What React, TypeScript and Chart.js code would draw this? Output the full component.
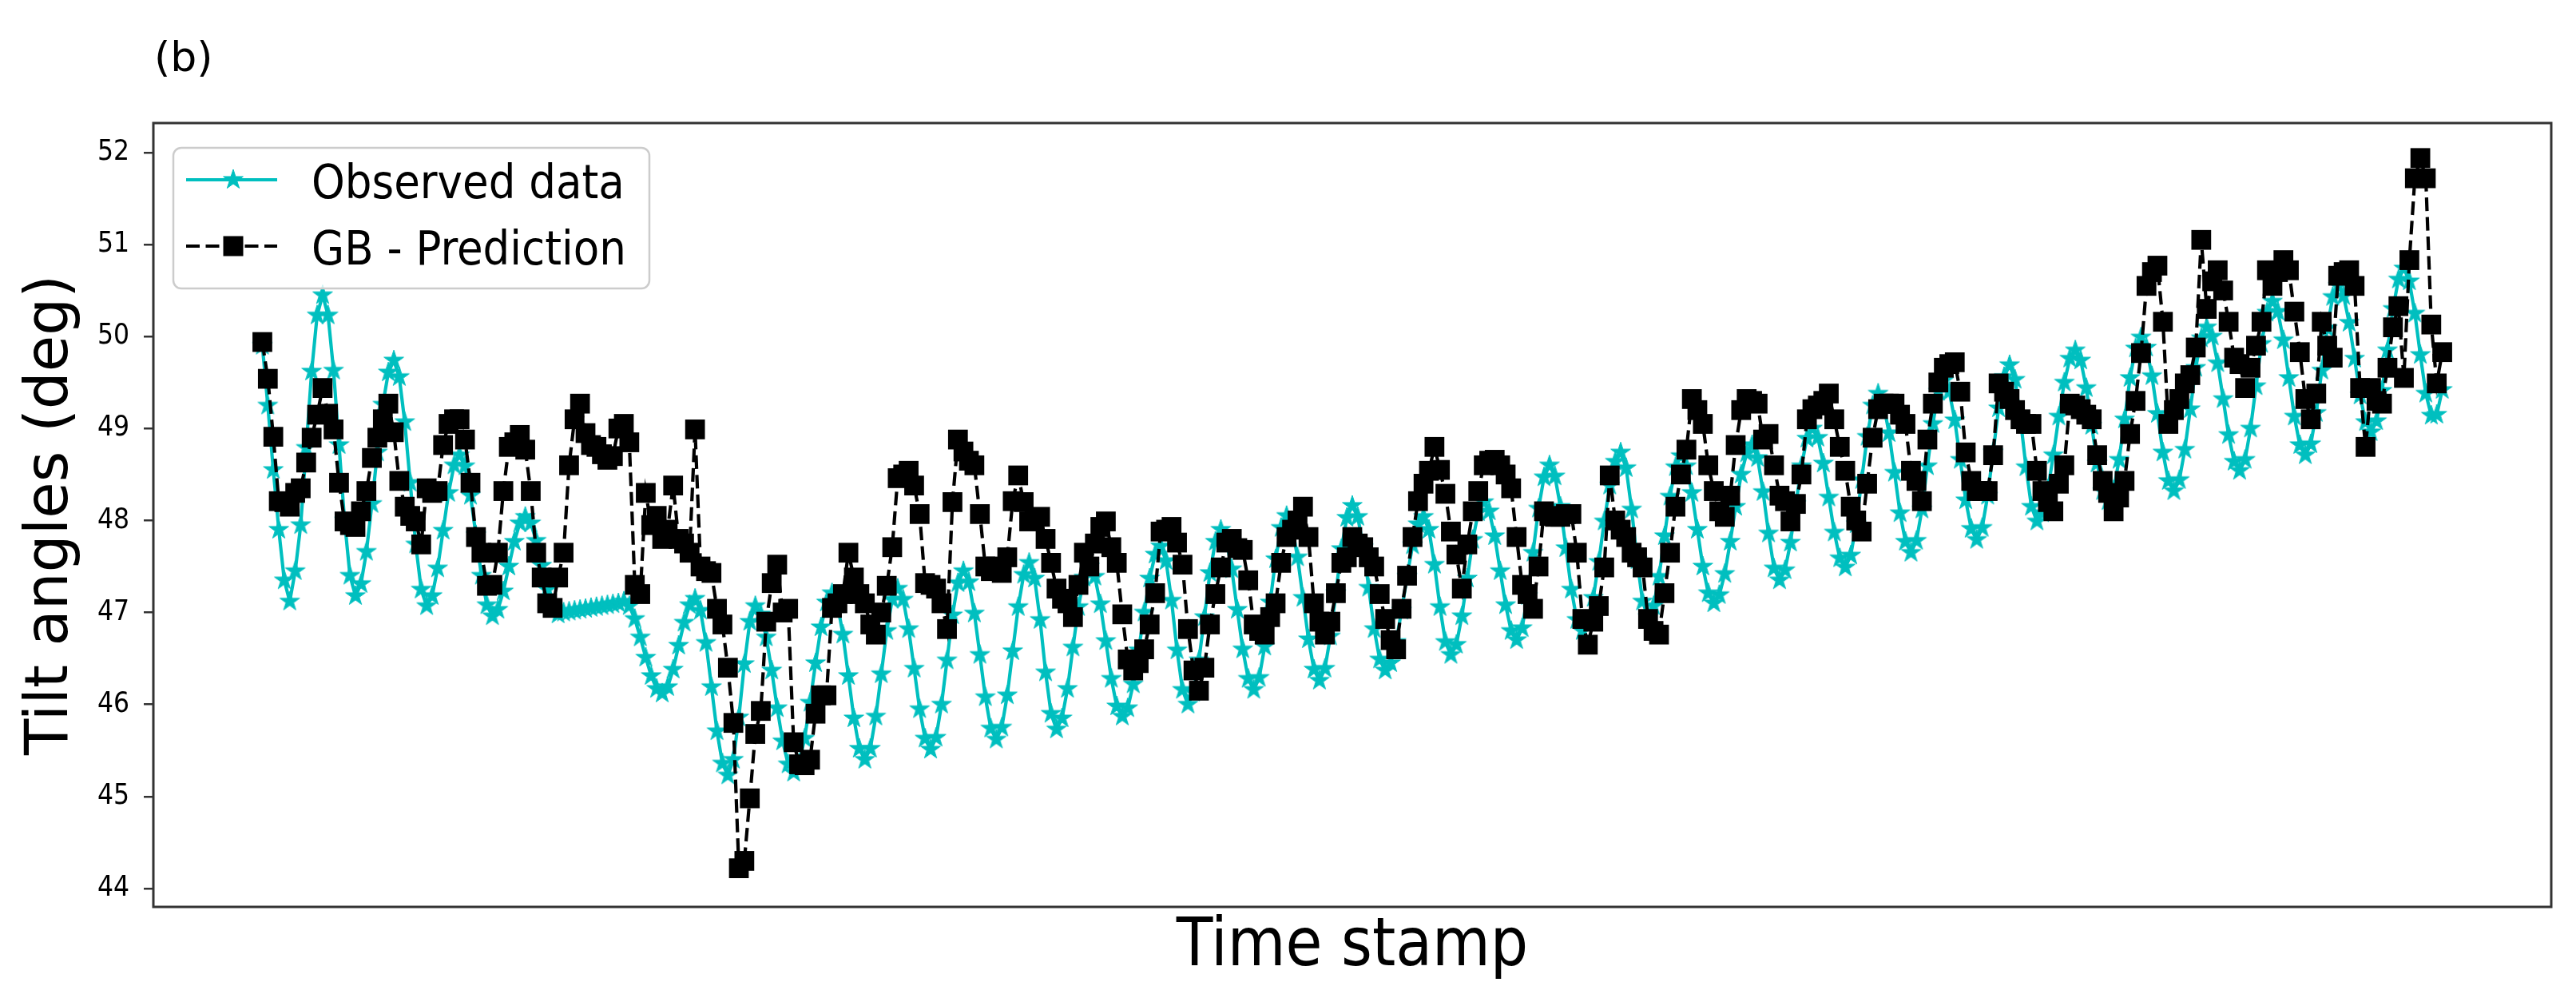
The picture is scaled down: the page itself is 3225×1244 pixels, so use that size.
import React, { useEffect, useRef } from "react";
import { Chart, registerables } from "chart.js";

Chart.register(...registerables);

// ---------------- data ----------------
const panelLabel = "(b)";
const xAxisTitle = "Time stamp";
const yAxisTitle = "Tilt angles (deg)";
const seriesNames = ["Observed data", "GB - Prediction"];
const yTickValues = [44, 45, 46, 47, 48, 49, 50, 51, 52];
const yRange = [43.8, 52.32];

// observed tilt angle, one value per time stamp
const observed = [
  49.9, 49.25, 48.55, 47.9, 47.35, 47.12, 47.45, 47.95, 48.79, 49.62,
  50.23, 50.45, 50.23, 49.63, 48.82, 48.0, 47.4, 47.18, 47.31, 47.66,
  48.18, 48.74, 49.26, 49.61, 49.74, 49.56, 49.07, 48.41, 47.74, 47.25,
  47.07, 47.18, 47.48, 47.89, 48.3, 48.6, 48.71, 48.59, 48.27, 47.84,
  47.4, 47.08, 46.96, 47.03, 47.23, 47.5, 47.77, 47.97, 48.04, 47.97,
  47.78, 47.51, 47.25, 47.05, 46.98, 47.0, 47.01, 47.02, 47.03, 47.04,
  47.05, 47.06, 47.07, 47.08, 47.09, 47.1, 47.12, 47.07, 46.93, 46.73,
  46.51, 46.31, 46.17, 46.12, 46.19, 46.38, 46.64, 46.89, 47.08, 47.15,
  47.02, 46.67, 46.19, 45.71, 45.36, 45.23, 45.4, 45.86, 46.44, 46.9,
  47.07, 46.98, 46.73, 46.37, 45.96, 45.6, 45.35, 45.26, 45.36, 45.63,
  46.02, 46.45, 46.84, 47.11, 47.21, 47.09, 46.76, 46.31, 45.85, 45.52,
  45.4, 45.52, 45.87, 46.33, 46.8, 47.14, 47.26, 47.14, 46.82, 46.39,
  45.95, 45.63, 45.51, 45.64, 46.0, 46.48, 46.97, 47.32, 47.45, 47.33,
  46.99, 46.54, 46.08, 45.74, 45.62, 45.75, 46.1, 46.58, 47.06, 47.41,
  47.54, 47.37, 46.92, 46.35, 45.9, 45.73, 45.85, 46.17, 46.62, 47.06,
  47.38, 47.5, 47.39, 47.09, 46.69, 46.28, 45.98, 45.87, 45.96, 46.22,
  46.59, 47.0, 47.37, 47.63, 47.72, 47.56, 47.13, 46.59, 46.16, 46.0,
  46.13, 46.48, 46.95, 47.43, 47.77, 47.9, 47.78, 47.47, 47.03, 46.6,
  46.28, 46.16, 46.29, 46.63, 47.11, 47.58, 47.92, 48.05, 47.93, 47.6,
  47.16, 46.71, 46.38, 46.26, 46.39, 46.74, 47.21, 47.69, 48.03, 48.16,
  48.04, 47.71, 47.27, 46.82, 46.49, 46.37, 46.45, 46.68, 47.02, 47.39,
  47.73, 47.96, 48.04, 47.9, 47.52, 47.06, 46.68, 46.54, 46.65, 46.96,
  47.37, 47.79, 48.09, 48.2, 48.1, 47.83, 47.45, 47.08, 46.8, 46.7,
  46.83, 47.18, 47.65, 48.13, 48.47, 48.6, 48.48, 48.15, 47.7, 47.25,
  46.92, 46.8, 46.9, 47.16, 47.55, 47.99, 48.38, 48.64, 48.74, 48.57,
  48.12, 47.57, 47.12, 46.95, 47.07, 47.39, 47.83, 48.26, 48.58, 48.7,
  48.59, 48.3, 47.9, 47.5, 47.21, 47.1, 47.19, 47.42, 47.77, 48.15,
  48.5, 48.73, 48.82, 48.68, 48.31, 47.86, 47.48, 47.35, 47.46, 47.76,
  48.18, 48.59, 48.89, 49.0, 48.9, 48.62, 48.25, 47.87, 47.59, 47.49,
  47.62, 47.96, 48.44, 48.91, 49.25, 49.38, 49.26, 48.95, 48.52, 48.08,
  47.77, 47.65, 47.78, 48.12, 48.59, 49.05, 49.4, 49.52, 49.4, 49.09,
  48.66, 48.22, 47.91, 47.79, 47.92, 48.27, 48.74, 49.22, 49.56, 49.69,
  49.53, 49.1, 48.58, 48.15, 47.99, 48.08, 48.34, 48.71, 49.13, 49.5,
  49.76, 49.85, 49.74, 49.44, 49.03, 48.62, 48.32, 48.21, 48.33, 48.66,
  49.1, 49.55, 49.87, 49.99, 49.88, 49.57, 49.16, 48.74, 48.43, 48.32,
  48.44, 48.77, 49.21, 49.66, 49.98, 50.1, 50.0, 49.71, 49.32, 48.93,
  48.64, 48.54, 48.66, 49.0, 49.46, 49.92, 50.26, 50.38, 50.27, 49.96,
  49.55, 49.13, 48.82, 48.71, 48.83, 49.17, 49.63, 50.09, 50.43, 50.55,
  50.44, 50.15, 49.76, 49.36, 49.07, 48.96, 49.08, 49.41, 49.85, 50.3,
  50.62, 50.74, 50.6, 50.25, 49.8, 49.38, 49.14, 49.15, 49.42,
];

// gradient boosting prediction, one value per time stamp
const gbPrediction = [
  49.94, 49.54, 48.91, 48.21, 48.2, 48.15, 48.3, 48.35, 48.63, 48.9,
  49.15, 49.44, 49.16, 48.99, 48.41, 47.99, 47.95, 47.93, 48.1, 48.32,
  48.68, 48.9, 49.1, 49.27, 48.96, 48.43, 48.15, 48.05, 47.99, 47.74,
  48.35, 48.3, 48.32, 48.82, 49.05, 49.1, 49.1, 48.88, 48.41, 47.82,
  47.65, 47.29, 47.3, 47.65, 48.32, 48.8, 48.85, 48.93, 48.77, 48.32,
  47.65, 47.38, 47.1, 47.05, 47.38, 47.65, 48.6, 49.1, 49.27, 48.95,
  48.82, 48.8, 48.72, 48.66, 48.7, 49.0, 49.05, 48.85, 47.3, 47.2,
  48.3, 47.95, 48.05, 47.8, 47.9, 48.38, 47.8, 47.75, 47.65, 48.99,
  47.5, 47.45, 47.43, 47.04, 46.87, 46.4, 45.8, 44.22, 44.3, 44.98,
  45.68, 45.93, 46.9, 47.32, 47.52, 47.0, 47.04, 45.59, 45.35, 45.34,
  45.4, 45.9, 46.1, 46.1, 47.05, 47.1, 47.2, 47.65, 47.38, 47.2,
  47.1, 46.87, 46.76, 47.0, 47.29, 47.71, 48.46, 48.5, 48.54, 48.38,
  48.07, 47.32, 47.3, 47.26, 47.1, 46.82, 48.2, 48.88, 48.75, 48.65,
  48.6, 48.07, 47.5, 47.45, 47.5, 47.43, 47.6, 48.21, 48.49, 48.2,
  47.99, 48.0, 48.04, 47.8, 47.54, 47.26, 47.15, 47.1, 46.95, 47.3,
  47.65, 47.5, 47.75, 47.93, 47.99, 47.71, 47.54, 46.98, 46.49, 46.37,
  46.45, 46.6, 46.87, 47.21, 47.88, 47.9, 47.93, 47.76, 47.52, 46.82,
  46.37, 46.15, 46.4, 46.87, 47.2, 47.49, 47.76, 47.8, 47.7, 47.68,
  47.35, 46.87, 46.8, 46.76, 46.95, 47.1, 47.54, 47.82, 47.9, 48.0,
  48.15, 47.82, 47.1, 46.9, 46.76, 46.9, 47.21, 47.54, 47.6, 47.82,
  47.75, 47.71, 47.6, 47.5, 47.2, 46.93, 46.7, 46.6, 47.04, 47.4,
  47.82, 48.21, 48.4, 48.54, 48.8, 48.55, 48.29, 47.88, 47.63, 47.26,
  47.74, 48.1, 48.32, 48.6, 48.65, 48.66, 48.6, 48.5, 48.35, 47.82,
  47.3, 47.2, 47.04, 47.5, 48.1, 48.05, 48.04, 48.04, 48.07, 48.07,
  47.65, 46.93, 46.65, 46.9, 47.07, 47.49, 48.49, 48.0, 47.9, 47.82,
  47.65, 47.6, 47.49, 46.93, 46.8, 46.76, 47.21, 47.65, 48.15, 48.5,
  48.77, 49.32, 49.2, 49.05, 48.6, 48.32, 48.1, 48.04, 48.27, 48.82,
  49.2, 49.32, 49.3, 49.27, 48.88, 48.94, 48.6, 48.27, 48.21, 47.99,
  48.18, 48.5, 49.1, 49.21, 49.25, 49.3, 49.38, 49.1, 48.8, 48.54,
  48.15, 48.0, 47.88, 48.4, 48.9, 49.21, 49.27, 49.27, 49.27, 49.15,
  49.05, 48.54, 48.43, 48.21, 48.88, 49.27, 49.5, 49.66, 49.7, 49.72,
  49.4, 48.74, 48.43, 48.32, 48.32, 48.32, 48.71, 49.49, 49.4, 49.32,
  49.2, 49.1, 49.05, 49.05, 48.54, 48.32, 48.2, 48.1, 48.4, 48.6,
  49.27, 49.25, 49.21, 49.15, 49.1, 48.71, 48.43, 48.3, 48.1, 48.25,
  48.43, 48.94, 49.3, 49.82, 50.55, 50.7, 50.77, 50.16, 49.05, 49.2,
  49.32, 49.49, 49.58, 49.88, 51.05, 50.3, 50.6, 50.72, 50.5, 50.16,
  49.77, 49.7, 49.44, 49.66, 49.9, 50.16, 50.72, 50.55, 50.7, 50.83,
  50.72, 50.27, 49.83, 49.32, 49.1, 49.38, 50.16, 49.9, 49.77, 50.66,
  50.7, 50.72, 50.55, 49.44, 48.8, 49.44, 49.3, 49.27, 49.66, 50.1,
  50.33, 49.55, 50.83, 51.72, 51.94, 51.72, 50.13, 49.49, 49.83,
];

// ---------------- styling ----------------
const W = 3225;
const H = 1244;
const CYAN = "#00BFBF";
const FRAME = "#333333";
const SANS = "'DejaVu Sans', sans-serif";
const COND = "'DejaVu Sans Condensed', 'DejaVu Sans', sans-serif";
const DASH = [17, 7.5];

function makeStar(size: number, color: string): HTMLCanvasElement {
  const c = document.createElement("canvas");
  c.width = size;
  c.height = size;
  const g = c.getContext("2d")!;
  const cx = size / 2;
  const cy = size / 2;
  const R = size / 2 - 1;
  const r = R * 0.382;
  g.beginPath();
  for (let k = 0; k < 10; k++) {
    const ang = -Math.PI / 2 + (k * Math.PI) / 5;
    const rad = k % 2 === 0 ? R : r;
    const px = cx + rad * Math.cos(ang);
    const py = cy + rad * Math.sin(ang);
    if (k === 0) g.moveTo(px, py);
    else g.lineTo(px, py);
  }
  g.closePath();
  g.fillStyle = color;
  g.fill();
  g.strokeStyle = color;
  g.lineWidth = 1;
  g.stroke();
  return c;
}

export default function App() {
  const ref = useRef<HTMLCanvasElement | null>(null);

  useEffect(() => {
    const canvas = ref.current;
    if (!canvas) return;
    const star = makeStar(28, CYAN);
    const n = observed.length;

    const overlay = {
      id: "overlay",
      afterDatasetsDraw(chart: any) {
        const { ctx, chartArea: a } = chart;
        ctx.save();
        ctx.strokeStyle = FRAME;
        ctx.lineWidth = 3;
        ctx.strokeRect(a.left, a.top, a.right - a.left, a.bottom - a.top);
        ctx.restore();
      },
      afterDraw(chart: any) {
        const { ctx, chartArea: a } = chart;
        ctx.save();
        // panel label
        ctx.fillStyle = "#000";
        ctx.font = `52px ${SANS}`;
        ctx.textAlign = "left";
        ctx.textBaseline = "alphabetic";
        ctx.fillText(panelLabel, a.left + 1, 89);

        // legend box
        const bx = a.left + 25;
        const by = a.top + 31;
        const bw = 596;
        const bh = 176;
        ctx.beginPath();
        if ((ctx as any).roundRect) (ctx as any).roundRect(bx, by, bw, bh, 10);
        else ctx.rect(bx, by, bw, bh);
        ctx.fillStyle = "rgba(255,255,255,0.8)";
        ctx.fill();
        ctx.strokeStyle = "#cccccc";
        ctx.lineWidth = 2.5;
        ctx.stroke();

        const lx0 = a.left + 41;
        const lx1 = a.left + 155;
        const mx = a.left + 100;
        const y1 = a.top + 71;
        const y2 = a.top + 154;

        // observed entry
        ctx.setLineDash([]);
        ctx.strokeStyle = CYAN;
        ctx.lineWidth = 4.2;
        ctx.beginPath();
        ctx.moveTo(lx0, y1);
        ctx.lineTo(lx1, y1);
        ctx.stroke();
        ctx.drawImage(star, mx - star.width / 2, y1 - star.height / 2);

        // prediction entry
        ctx.strokeStyle = "#000";
        ctx.setLineDash(DASH);
        ctx.beginPath();
        ctx.moveTo(lx0, y2);
        ctx.lineTo(lx1, y2);
        ctx.stroke();
        ctx.setLineDash([]);
        ctx.fillStyle = "#000";
        ctx.fillRect(mx - 12.5, y2 - 12.5, 25, 25);

        ctx.fillStyle = "#000";
        ctx.font = `59px ${COND}`;
        ctx.fillText(seriesNames[0], a.left + 198, a.top + 94);
        ctx.fillText(seriesNames[1], a.left + 198, a.top + 177);
        ctx.restore();
      },
    };

    const chart = new Chart(canvas, {
      type: "line",
      data: {
        datasets: [
          {
            label: seriesNames[0],
            data: observed.map((y, i) => ({ x: i, y })),
            borderColor: CYAN,
            backgroundColor: CYAN,
            borderWidth: 4.2,
            borderJoinStyle: "round",
            pointStyle: star as any,
            pointRadius: 12,
            pointHoverRadius: 12,
            tension: 0,
            fill: false,
            order: 2,
          },
          {
            label: seriesNames[1],
            data: gbPrediction.map((y, i) => ({ x: i, y })),
            borderColor: "#000",
            backgroundColor: "#000",
            borderWidth: 4.2,
            borderDash: DASH,
            pointStyle: "rect",
            pointRadius: 17.5,
            pointHoverRadius: 17.5,
            pointBackgroundColor: "#000",
            pointBorderColor: "#000",
            pointBorderWidth: 0,
            tension: 0,
            fill: false,
            order: 1,
          },
        ],
      },
      options: {
        animation: false,
        responsive: false,
        devicePixelRatio: 1,
        events: [],
        layout: { padding: { left: 0, top: 154, right: 31, bottom: 0 } },
        plugins: {
          legend: { display: false },
          tooltip: { enabled: false },
          title: { display: false },
        },
        scales: {
          x: {
            type: "linear",
            min: -0.05 * (n - 1),
            max: 1.05 * (n - 1),
            ticks: { display: false },
            grid: { display: false },
            border: { display: false },
            title: {
              display: true,
              text: xAxisTitle,
              color: "#000",
              font: { family: COND, size: 83 },
              padding: { top: 0, bottom: 8 },
            },
            afterFit: (s: any) => {
              s.height = 109;
            },
          },
          y: {
            type: "linear",
            min: yRange[0],
            max: yRange[1],
            afterBuildTicks: (s: any) => {
              s.ticks = yTickValues.map((v) => ({ value: v }));
            },
            ticks: {
              color: "#000",
              font: { family: COND, size: 35 },
              padding: 18,
              callback: (v: any) => String(v),
            },
            grid: {
              drawOnChartArea: false,
              drawTicks: true,
              tickLength: 12,
              color: FRAME,
              lineWidth: 2.5,
            },
            border: { display: false },
            title: {
              display: true,
              text: yAxisTitle,
              color: "#000",
              font: { family: SANS, size: 74 },
              padding: { top: 20, bottom: 0 },
            },
            afterFit: (s: any) => {
              s.width = 192;
            },
          },
        },
      },
      plugins: [overlay],
    } as any);

    return () => chart.destroy();
  }, []);

  return (
    <div style={{ position: "absolute", left: 0, top: 0, width: W, height: H, background: "#fff" }}>
      <canvas ref={ref} width={W} height={H} style={{ width: W, height: H, display: "block" }} />
    </div>
  );
}
